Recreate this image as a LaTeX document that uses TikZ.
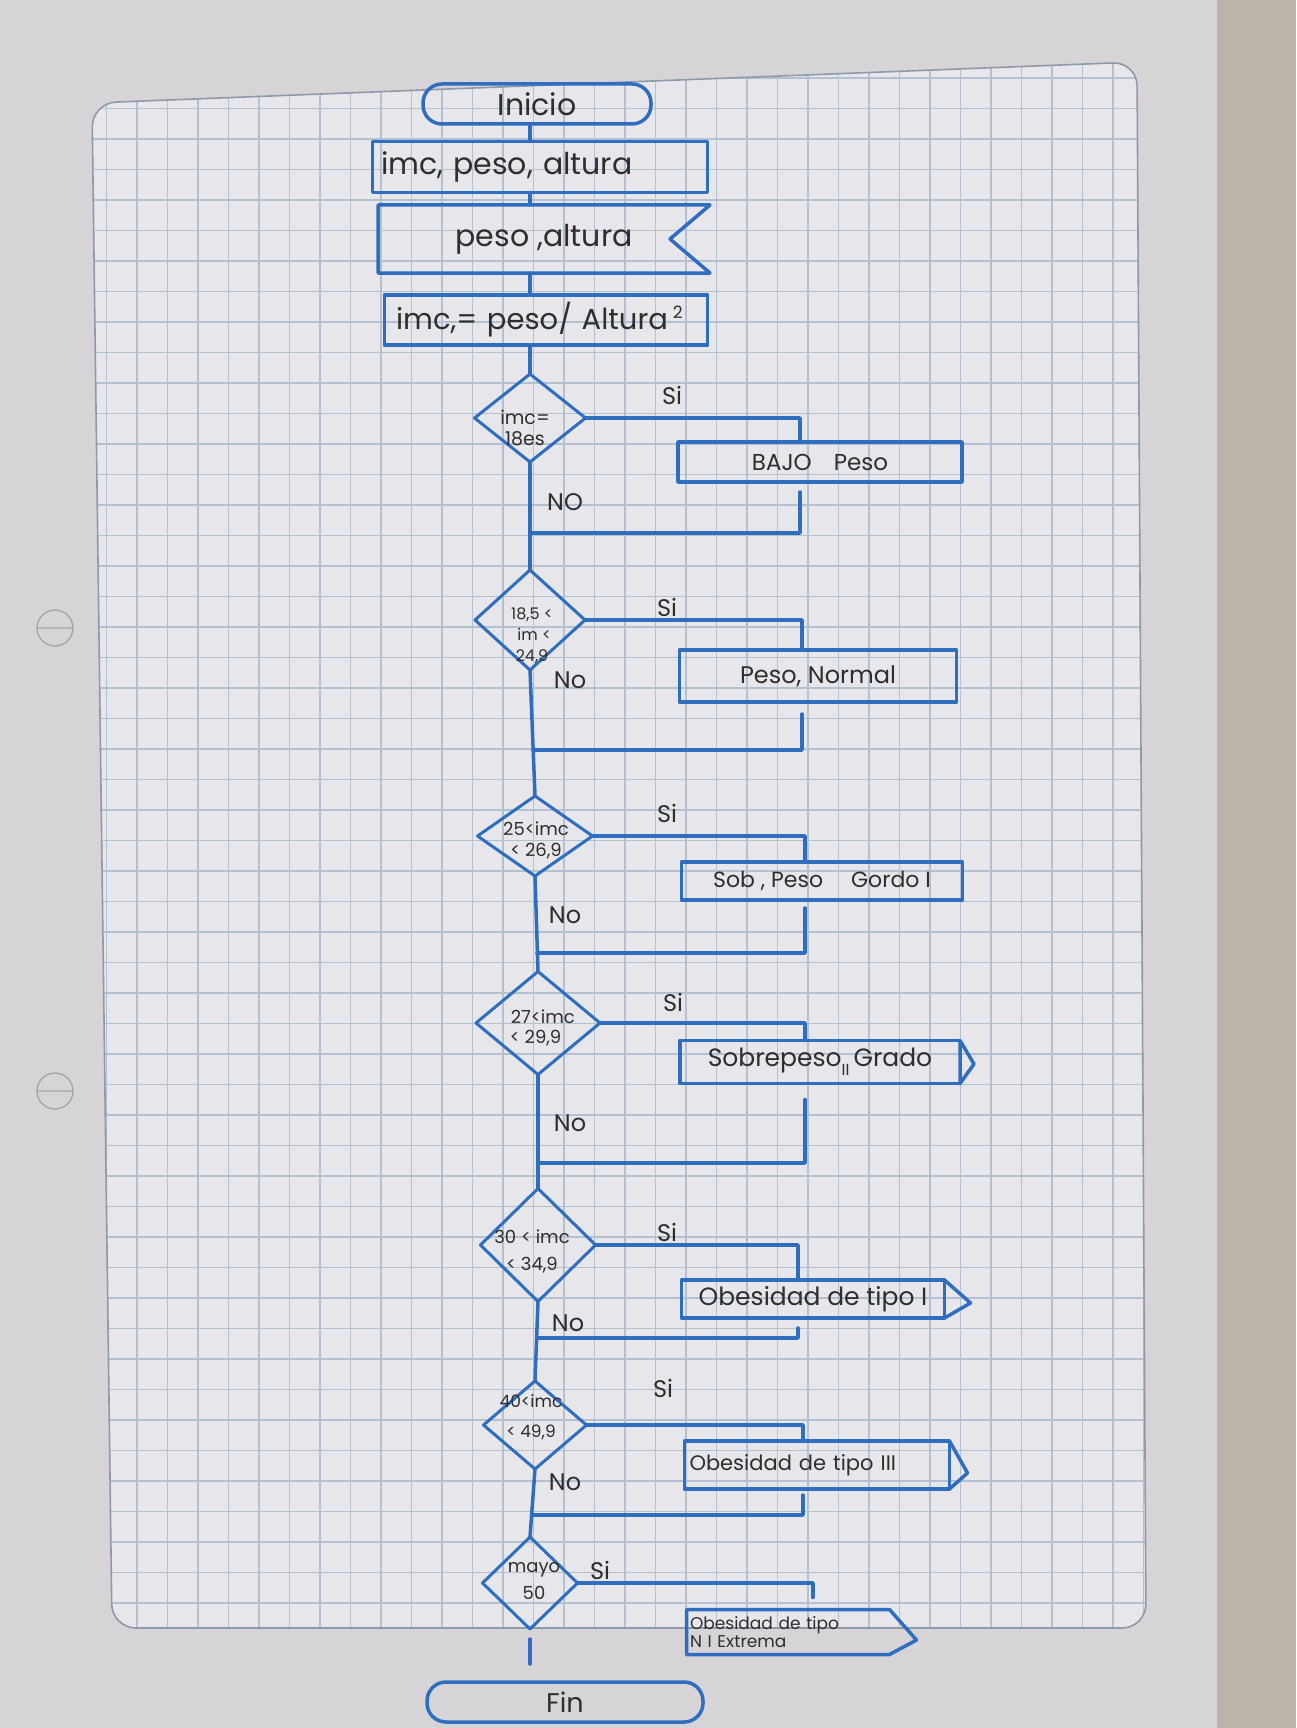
\documentclass[tikz,border=0pt]{standalone}
\usepackage{fontspec}
\setmainfont{Poppins}
\usetikzlibrary{shapes.geometric,calc}
\definecolor{ink}{HTML}{2F6DBF}
\definecolor{pencil}{HTML}{2E2E2E}
\definecolor{paper}{HTML}{D6D4D7}
\definecolor{gridbg}{HTML}{E6E6EB}
\definecolor{gridline}{HTML}{B3C0CF}
\definecolor{border}{HTML}{8E9AAA}
\definecolor{tablec}{HTML}{BAB4AB}
\newcommand\hsz[1]{\fontsize{#1}{#1}\selectfont}
\begin{document}
\begin{tikzpicture}[x=1pt,y=-1pt,
  ink/.style={draw=ink, line width=3.5pt, line cap=round, line join=round},
  boxn/.style={rectangle, ink, inner sep=0pt, outer sep=0pt, text=pencil},
  bare/.style={rectangle, inner sep=0pt, outer sep=0pt, text=pencil},
  term/.style={rectangle, rounded corners=19pt, ink, inner sep=0pt, outer sep=0pt, text=pencil},
  dia/.style={diamond, draw=ink, line width=3pt, line join=round, inner sep=0pt, outer sep=0pt},
  dtext/.style={text=pencil, align=center, inner sep=0pt},
  lbl/.style={text=pencil, inner sep=0pt, font=\hsz{24}},
  gridln/.style={draw=gridline, line width=1.2pt}]
\useasboundingbox (0,0) rectangle (1296,1728);
% ---- background: table, paper, grid ----
\fill[tablec] (0,0) rectangle (1296,1728);
\fill[paper] (0,0) rectangle (1217,1728);
\begin{scope}
  \clip[rounded corners=24pt] (92,103) -- (1137,62) -- (1146,1628) -- (112,1628) -- cycle;
  \fill[gridbg] (0,0) rectangle (1296,1728);
  \foreach \gx in {0,...,42} \draw[gridln] ({15+30.5*\gx},0) -- ({15+30.5*\gx},1728);
  \foreach \gy in {0,...,56} \draw[gridln] (0,{17+30.5*\gy}) -- (1296,{17+30.5*\gy});
\end{scope}
\draw[border, line width=1.6pt, rounded corners=24pt] (92,103) -- (1137,62) -- (1146,1628) -- (112,1628) -- cycle;
\draw[gray!70, line width=1.4pt] (55,628) circle (18pt) (37,628) -- (73,628);
\draw[gray!70, line width=1.4pt] (55,1091) circle (18pt) (37,1091) -- (73,1091);
% ---- top chain ----
\node[term, minimum width=228pt, minimum height=40pt, font=\hsz{30}] (inicio) at (537,104) {Inicio};
\node[boxn, minimum width=335pt, minimum height=51pt, text width=318pt, align=left, font=\hsz{30}] (datos) at (540,167) {imc, peso, altura};
\node[bare, minimum width=332pt, minimum height=68pt, font=\hsz{30}] (leer) at (544,239) {peso ,altura};
\draw[ink] (leer.north west) -- (leer.north east) -- ($(leer.east)+(-40,0)$) -- (leer.south east) -- (leer.south west) -- cycle;
\node[boxn, minimum width=323pt, minimum height=50pt, text width=300pt, align=left, font=\hsz{29}] (calc) at (546,320) {imc,= peso/ Altura\,\raisebox{11pt}{\hsz{17}2}};
% ---- decisions ----
\node[dia, minimum width=111pt, minimum height=88pt] (d1) at (530,418) {};
\node[dia, minimum width=110pt, minimum height=100pt] (d2) at (530,620) {};
\node[dia, minimum width=115pt, minimum height=80pt] (d3) at (535,836) {};
\node[dia, minimum width=124pt, minimum height=103pt] (d4) at (538,1023) {};
\node[dia, minimum width=115pt, minimum height=113pt] (d5) at (538,1245) {};
\node[dia, minimum width=103pt, minimum height=88pt] (d6) at (535,1425) {};
\node[dia, minimum width=95pt, minimum height=92pt] (d7) at (530,1583) {};
\node[dtext, font=\fontsize{19}{21}\selectfont] (t1) at (525,428) {imc=\\18es};
\node[dtext, font=\fontsize{16}{21}\selectfont] (t2) at (532,636) {18,5 <\\\ im <\\24,9};
\node[dtext, font=\fontsize{18}{21}\selectfont] (t3) at (536,840) {25<imc\\< 26,9};
\node[dtext, font=\fontsize{18}{20}\selectfont] (t4) at (538,1028) {\ \ 27<imc\\< 29,9\ \ };
\node[dtext, font=\fontsize{18}{27}\selectfont] (t5) at (532,1251) {30 < imc\\< 34,9};
\node[dtext, font=\fontsize{17}{30}\selectfont] (t6) at (531,1417) {40<imc\\< 49,9};
\node[dtext, font=\fontsize{18}{27}\selectfont] (t7) at (534,1581) {mayo\\50};
% ---- result boxes ----
\node[boxn, minimum width=284pt, minimum height=40pt, font=\hsz{23}] (bajo) at (820,462) {BAJO\hspace{22pt}Peso\hspace{20pt}};
\node[boxn, minimum width=277pt, minimum height=52pt, font=\hsz{24}] (normal) at (818,676) {Peso, Normal};
\node[boxn, minimum width=281pt, minimum height=38pt, font=\hsz{22}] (sob) at (822,881) {Sob , Peso\hspace{28pt}Gordo I};
\node[bare, minimum width=280pt, minimum height=43pt, font=\hsz{25}] (sobre) at (820,1062) {Sobrepeso\raisebox{-9pt}{\hsz{16}II}\,Grado};
\draw[ink] (sobre.north east) -- (sobre.north west) -- (sobre.south west) -- (sobre.south east);
\draw[ink] (sobre.north east) -- ($(sobre.east)+(14,2)$) -- (sobre.south east) -- cycle;
\node[boxn, minimum width=263pt, minimum height=38pt, font=\hsz{25}] (ob1) at (813,1299) {Obesidad de tipo I};
\draw[ink] (ob1.north east) -- ($(ob1.east)+(26,4)$) -- (ob1.south east);
\node[boxn, minimum width=265pt, minimum height=48pt, text width=255pt, align=left, font=\hsz{21}] (ob3) at (817,1465) {Obesidad de tipo III};
\draw[ink] (ob3.north east) -- ($(ob3.east)+(18,8)$) -- (ob3.south east);
\node[bare, minimum width=203pt, minimum height=45pt, text width=196pt, align=left, font=\fontsize{17}{18}\selectfont] (ext) at (788,1632) {Obesidad de tipo\\N I Extrema};
\draw[ink] (ext.north west) -- (ext.north east) -- ($(ext.east)+(27,8)$) -- (ext.south east) -- (ext.south west) -- cycle;
\node[term, minimum width=276pt, minimum height=40pt, font=\hsz{27}] (fin) at (565,1702) {Fin};
% ---- coordinates ----
\coordinate (t) at (530,0);
\coordinate (j1) at (800,0);
\coordinate (j2) at (802,0);
\coordinate (j3) at (805,0);
\coordinate (j4) at (805,0);
\coordinate (j5) at (798,0);
\coordinate (j6) at (803,0);
\coordinate (j7) at (813,0);
\coordinate (m1) at (530,533);
\coordinate (m2) at (533,750);
\coordinate (m3) at (537,953);
\coordinate (m4) at (538,1163);
\coordinate (m5) at (537,1338);
\coordinate (m6) at (532,1515);
% ---- connectors ----
\draw[ink] (inicio.south -| t) -- (datos.north -| t);
\draw[ink] (datos.south -| t) -- (leer.north -| t);
\draw[ink] (leer.south -| t) -- (calc.north -| t);
\draw[ink] (calc.south -| t) -- (d1.north);
\draw[ink] (d1.south) -- (d2.north);
\draw[ink] (d2.south) -- (d3.north);
\draw[ink] (d3.south) -- (d4.north);
\draw[ink] (d4.south) -- (d5.north);
\draw[ink] (d5.south) -- (d6.north);
\draw[ink] (d6.south) -- (d7.north);
\draw[ink, shorten <=10pt, shorten >=18pt] (d7.south) -- (d7.south |- fin.north);
% Si branches
\draw[ink] (d1.east) -| (bajo.north -| j1);
\draw[ink] (d2.east) -| (normal.north -| j2);
\draw[ink] (d3.east) -| (sob.north -| j3);
\draw[ink] (d4.east) -| (sobre.north -| j4);
\draw[ink] (d5.east) -| (ob1.north -| j5);
\draw[ink] (d6.east) -| (ob3.north -| j6);
\draw[ink] (d7.east) -| ($(ext.north -| j7)+(0,-12)$);
% returns
\draw[ink] ($(bajo.south -| j1)+(0,10)$) |- (m1);
\draw[ink] ($(normal.south -| j2)+(0,12)$) |- (m2);
\draw[ink] ($(sob.south -| j3)+(0,8)$) |- (m3);
\draw[ink] ($(sobre.south -| j4)+(0,16)$) |- (m4);
\draw[ink] ($(ob1.south -| j5)+(0,10)$) |- (m5);
\draw[ink] ($(ob3.south -| j6)+(0,6)$) |- (m6);
% labels
\node[lbl] (s1) at (672,395) {Si};
\node[lbl] (s2) at (667,607) {Si};
\node[lbl] (s3) at (667,813) {Si};
\node[lbl] (s4) at (673,1002) {Si};
\node[lbl] (s5) at (667,1232) {Si};
\node[lbl] (s6) at (663,1388) {Si};
\node[lbl] (s7) at (600,1570) {Si};
\node[lbl] (n1) at (565,502) {NO};
\node[lbl] (n2) at (570,680) {No};
\node[lbl] (n3) at (565,915) {No};
\node[lbl] (n4) at (570,1123) {No};
\node[lbl] (n5) at (568,1323) {No};
\node[lbl] (n6) at (565,1482) {No};
\end{tikzpicture}
\end{document}
